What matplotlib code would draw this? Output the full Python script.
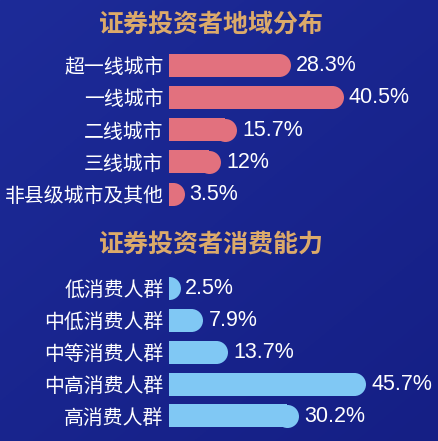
import numpy as np
import matplotlib
matplotlib.use("Agg")
import matplotlib.pyplot as plt

plt.rcParams['font.family'] = ['Noto Sans CJK SC', 'DejaVu Sans']

# data
region_title = '证券投资者地域分布'
region_labels = ['超一线城市', '一线城市', '二线城市', '三线城市', '非县级城市及其他']
region_values = [28.3, 40.5, 15.7, 12, 3.5]

spend_title = '证券投资者消费能力'
spend_labels = ['低消费人群', '中低消费人群', '中等消费人群', '中高消费人群', '高消费人群']
spend_values = [2.5, 7.9, 13.7, 45.7, 30.2]

W, H = 439, 441
fig = plt.figure(figsize=(W / 100, H / 100), dpi=100)

# background gradient
bg = fig.add_axes([0, 0, 1, 1], zorder=-10)
yy, xx = np.mgrid[0:1:200j, 0:1:200j]
t = np.clip(0.55 * yy + 0.45 * xx, 0, 1)
c0 = np.array([0x1d, 0x2b, 0x98]) / 255
c1 = np.array([0x15, 0x1f, 0x85]) / 255
img = c0[None, None, :] * (1 - t[..., None]) + c1[None, None, :] * t[..., None]
bg.imshow(img, aspect='auto', extent=[0, 1, 0, 1])
bg.axis('off')

PX_PER_PCT = 4.3
LEFT_PX = 169


def bar_panel(top_px, step_px, labels, values, color):
    height_px = step_px * len(values)
    ax = fig.add_axes([LEFT_PX / W, 1 - (top_px + height_px) / H,
                       (W - LEFT_PX) / W, height_px / H])
    ax.set_xlim(0, (W - LEFT_PX) / PX_PER_PCT)
    ax.set_ylim(len(values) - 0.5, -0.5)
    ax.patch.set_alpha(0)
    for s in ax.spines.values():
        s.set_visible(False)
    ax.set_xticks([])
    bar_px = 23
    r = bar_px / 2 / PX_PER_PCT
    bh = bar_px / step_px
    y = np.arange(len(values))
    body = [max(v - r, 0) for v in values]
    ax.barh(y, body, height=bh, color=color, linewidth=0)
    # rounded right end
    d_pt = bar_px * 72 / 100
    ax.scatter(body, y, s=d_pt ** 2, color=color, marker='o', linewidths=0,
               clip_on=True, zorder=3)
    ax.set_yticks(y)
    ax.set_yticklabels(labels, fontsize=14.3, color='white')
    ax.tick_params(axis='y', length=0, pad=4)
    for yi, v in zip(y, values):
        ax.annotate(f'{v:g}%', (v, yi), xytext=(4, -0.5), textcoords='offset points',
                    va='center', ha='left', color='white', fontsize=15.5,
                    family='Liberation Sans', annotation_clip=False)
    return ax


bar_panel(65 - 16.15, 32.3, region_labels, region_values, '#e2717e')
bar_panel(288.3 - 15.95, 31.9, spend_labels, spend_values, '#80c8f4')

fig.text(211.7 / W, 1 - 25 / H, region_title, ha='center', va='center',
         fontsize=18, fontweight='bold', color='#dcaa6a')
fig.text(211.7 / W, 1 - 245 / H, spend_title, ha='center', va='center',
         fontsize=18, fontweight='bold', color='#dcaa6a')

fig.savefig('out.png', dpi=100)
